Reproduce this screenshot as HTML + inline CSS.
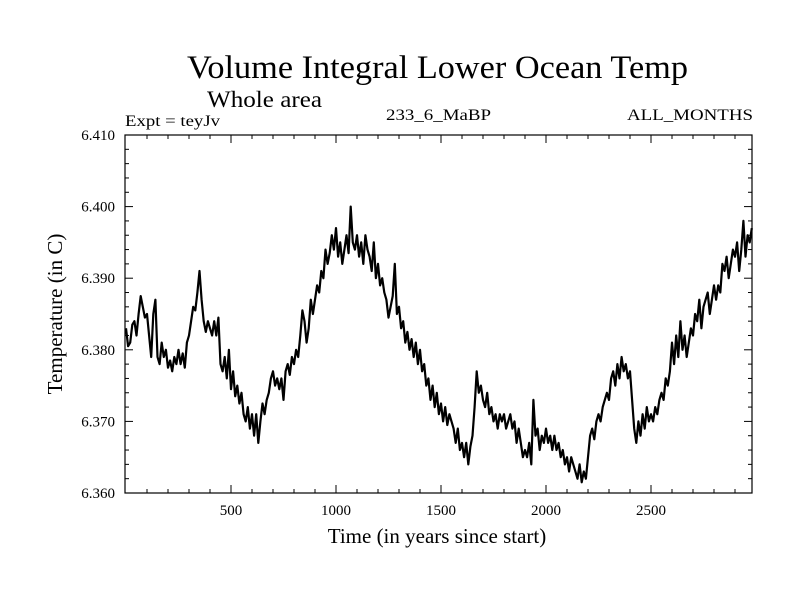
<!DOCTYPE html>
<html><head><meta charset="utf-8"><style>
body{margin:0;background:#fff}
svg text{font-family:"Liberation Serif",serif;fill:#000}
</style></head><body>
<svg id="chart" width="800" height="600">
<text x="187" y="78" font-size="33" textLength="501" lengthAdjust="spacingAndGlyphs">Volume Integral Lower Ocean Temp</text>
<text x="207" y="107" font-size="23" textLength="115" lengthAdjust="spacingAndGlyphs">Whole area</text>
<text x="125" y="126" font-size="16" textLength="95" lengthAdjust="spacingAndGlyphs">Expt = teyJv</text>
<text x="386" y="120" font-size="16" textLength="105" lengthAdjust="spacingAndGlyphs">233_6_MaBP</text>
<text x="627" y="120" font-size="16" textLength="126" lengthAdjust="spacingAndGlyphs">ALL_MONTHS</text>
<text x="437" y="543" font-size="21" text-anchor="middle">Time (in years since start)</text>
<text transform="translate(62,314) rotate(-90)" font-size="21" text-anchor="middle">Temperature (in C)</text>
<g id="ticks"></g>
<polyline id="series" fill="none" stroke="#000" stroke-width="2.2" stroke-linejoin="round"></polyline>
<rect x="125" y="135" width="627" height="358" fill="none" stroke="#000" stroke-width="1.2"/>
</svg>
<script>
const yearStart = 0;
const yearStep = 10;
const xTickLabels = [500, 1000, 1500, 2000, 2500];
const yTickLabels = ["6.360", "6.370", "6.380", "6.390", "6.400", "6.410"];
const tempOffsets = [
23,20.5,21,23.5,24,22,25,27.5,26,24.5,25,
22,19,25,27,19,18,21,19,20,17.5,
18.5,17,19,18,20,18,19.5,17.5,21,22,
24,26,25.5,28,31,27,24,22.5,24,23,
22,24,22,24.5,18,17,19,16,20,14.5,
17,13.5,15,12.5,14,11,10,12,9,11,
8,11,7,10,12.5,11,13,14,16,17,
15,16,14.5,16,13,17,18,16.5,19,18,
20,19,22,25.5,24,21,23,27,25,27,
29,28,31,30,34,32,33.5,36,34,37,
33,35,32,34,36,33.5,40,35,34,36,
33,35,32,36,34,33,31,35,30,32,
29,30,28,27,24.5,26,27.5,32,25,26,
23,24,21,22.5,20,21.5,19,21,18,20,
17,18,15,16,13,15,12,14,11,12.5,
10,12,9.5,11,10,9,7,9,6,7,
5,7,4,6.5,8,12,17,14,15,13,
12,14,11,12,10,11,9,11,10,11,
9,10,11,9,10,7,9,7,5,6,
5,7,4,13,8,9,6,8,7,9,
7,8,6,8,6,7,5,6,4,5,
3,5,4,3,2,4,1.5,3,2,5,
8,9,7.5,10,11,10,12,13,14,13,
16,17,15,18,16,19,17,18,16,17,
13,9,7,10,8,11,9,12,10,11,
10,12,11,13,14,13,16,15,17,21,
18,22,19,24,20,22,19,21,23,22,
25,24,27,23,26,27,28,25,27,29,
27,29,28,32,31,33,30,32,34,33,
35,31,34,38,33,36,35,37];
const tempBase = 6.360;

const L=125,R=752,T=135,B=493, X0=-4.8, X1=2981;
const xs = v => L + (v - X0) / (X1 - X0) * (R - L);
const ys = v => B - (v - 6.360) / 0.05 * (B - T);
const NS="http://www.w3.org/2000/svg";
const svg=document.getElementById('chart');
const tg=document.getElementById('ticks');
function line(x1,y1,x2,y2,name){
  const l=document.createElementNS(NS,'line');
  l.setAttribute('x1',x1);l.setAttribute('y1',y1);l.setAttribute('x2',x2);l.setAttribute('y2',y2);
  l.setAttribute('stroke','#000');l.setAttribute('stroke-width','1');
  
  
  tg.appendChild(l);
}
function text(x,y,s,anchor,name){
  const t=document.createElementNS(NS,'text');
  t.setAttribute('x',x);t.setAttribute('y',y);t.setAttribute('font-size','15');t.setAttribute('text-anchor',anchor);
  t.textContent=s;
  
  
  svg.appendChild(t);
}
for(let yr=100; yr<X1; yr+=100){
  const x=xs(yr), len = yr%500===0 ? 8 : 4;
  line(x,B,x,B-len,'x-tick');
  line(x,T,x,T+len,'x-tick-top');
}
xTickLabels.forEach(v=>text(xs(v),B+22,String(v),'middle','x-tick-label'));
for(let i=0;i<=25;i++){
  const v=6.360+i*0.002, y=ys(v), len = i%5===0 ? 8 : 4;
  line(L,y,L+len,y,'y-tick');
  line(R,y,R-len,y,'y-tick-right');
}
yTickLabels.forEach(s=>text(L-10,ys(parseFloat(s))+5,s,'end','y-tick-label'));
const pts=tempOffsets.map((o,i)=>xs(yearStart+i*yearStep).toFixed(1)+','+ys(tempBase+o/1000).toFixed(1));
document.getElementById('series').setAttribute('points',pts.join(' '));
</script>
</body></html>
